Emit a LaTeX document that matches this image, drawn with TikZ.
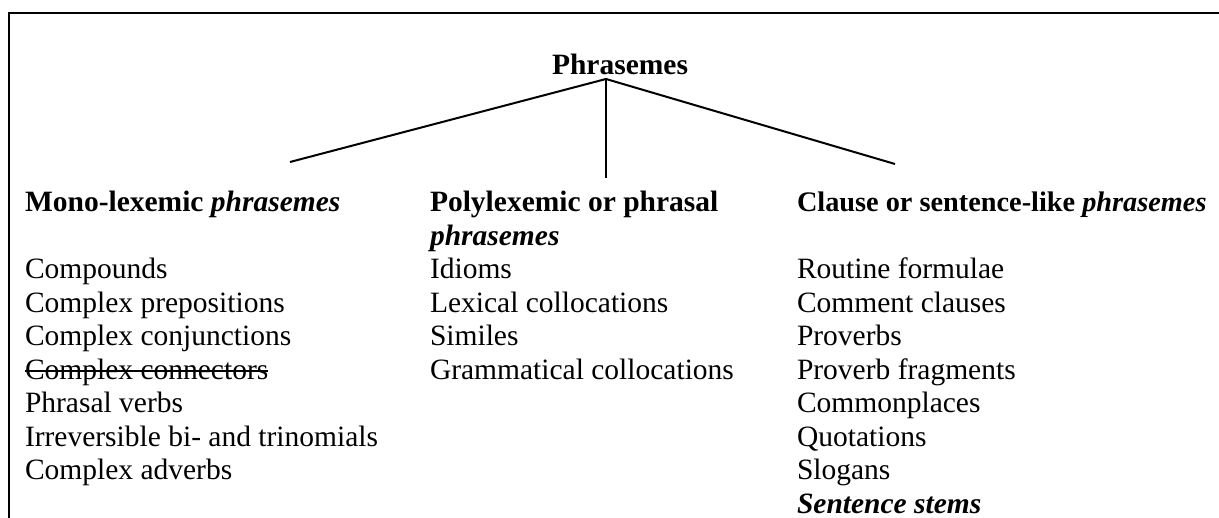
\documentclass[tikz,border=0pt]{standalone}
\usepackage{fontspec}
\setmainfont{Liberation Serif}
% struck-through text: a thin rule laid across the word box
\newcommand\crossedout[1]{\setbox0=\hbox{#1}\rlap{\rule[0.26em]{\wd0}{0.045em}}\box0}
\begin{document}
\begin{tikzpicture}[x=1pt,y=-1pt,
  every node/.style={inner sep=0pt, outer sep=0pt},
  txt/.style={anchor=base west, font=\fontsize{29.5}{33.5}\selectfont},
  title/.style={anchor=base, font=\fontsize{29.5}{33.5}\selectfont\bfseries},
  branch/.style={line width=2pt},
  frame/.style={line width=2pt}]
\useasboundingbox (0,0) rectangle (1219,518);
% open frame around the figure
\draw[frame] (9,518) -- (9,13) -- (1219,13);
% root label and the branching point below it
\node[title] (root) at (620,75) {Phrasemes};
\coordinate (fork) at (606,79);
\coordinate (endA) at (290,162);
\coordinate (endB) at (606,178);
\coordinate (endC) at (895,164);
\draw[branch] (endA) -- (fork) -- (endC);
\draw[branch, line width=1.5pt] (fork) -- (endB);
% the three classes with their members
\node[txt] (mono) at (25,212) {\begin{tabular}[t]{@{}l@{}}
\textbf{Mono-lexemic \textit{phrasemes}}\\
\\
Compounds\\
Complex prepositions\\
Complex conjunctions\\
\crossedout{Complex connectors}\\
Phrasal verbs\\
Irreversible bi- and trinomials\\
Complex adverbs
\end{tabular}};
\node[txt] (poly) at (430,212) {\begin{tabular}[t]{@{}l@{}}
\textbf{Polylexemic or phrasal}\\
\textbf{\textit{phrasemes}}\\
Idioms\\
Lexical collocations\\
Similes\\
Grammatical collocations
\end{tabular}};
\node[txt] (clause) at (797,212) {\begin{tabular}[t]{@{}l@{}}
{\fontsize{28.3}{33.5}\selectfont\textbf{Clause or sentence-like \textit{phrasemes}}}\\
\\
Routine formulae\\
Comment clauses\\
Proverbs\\
Proverb fragments\\
Commonplaces\\
Quotations\\
Slogans\\
\textbf{\textit{Sentence stems}}
\end{tabular}};
\end{tikzpicture}
\end{document}
